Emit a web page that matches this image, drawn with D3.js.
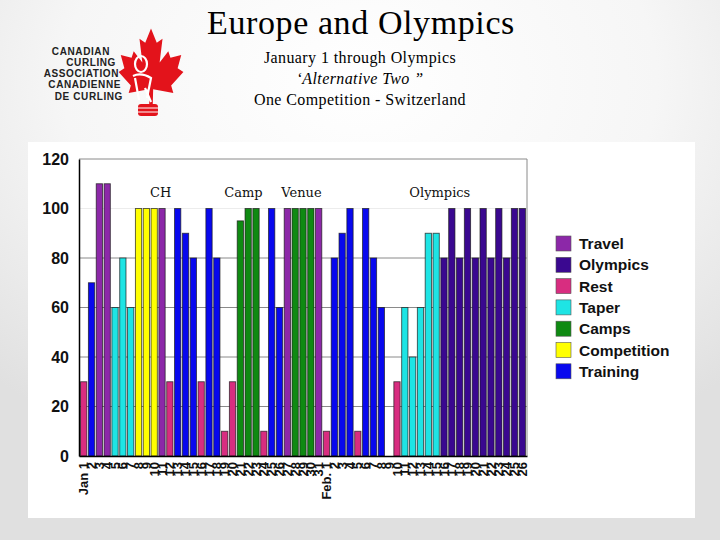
<!DOCTYPE html>
<html>
<head>
<meta charset="utf-8">
<script src="https://cdn.jsdelivr.net/npm/d3@7"></script>
<style>
  body { margin: 0; padding: 0; background: #fff; }
  svg { display: block; }
</style>
</head>
<body>
<div id="chart"></div>
<script>
// day labels along the x axis (Jan 1 .. Feb 26)
const dayLabels = ["Jan 1","2","3","4","5","6","7","8","9","10","11","12","13","14","15","16",
  "17","18","19","20","21","22","23","24","25","26","27","28","29","30","31",
  "Feb. 1","2","3","4","5","6","7","8","9","10","11","12","13","14","15","16",
  "17","18","19","20","21","22","23","24","25","26"];

// load per day
const loads = [30,70,110,110,60,80,60,100,100,100,100,30,100,90,80,30,
  100,80,10,30,95,100,100,10,100,60,100,100,100,100,100,
  10,80,90,100,10,100,80,60,0,30,60,40,60,90,90,80,
  100,80,100,80,100,80,100,80,100,100];

// activity type per day
const kinds = ["Rest","Training","Travel","Travel","Taper","Taper","Taper","Competition","Competition","Competition","Travel","Rest","Training","Training","Training","Rest",
  "Training","Training","Rest","Rest","Camps","Camps","Camps","Rest","Training","Training","Travel","Camps","Camps","Camps","Travel",
  "Rest","Training","Training","Training","Rest","Training","Training","Training","","Rest","Taper","Taper","Taper","Taper","Taper","Olympics",
  "Olympics","Olympics","Olympics","Olympics","Olympics","Olympics","Olympics","Olympics","Olympics","Olympics"];

const legendNames = ["Travel","Olympics","Rest","Taper","Camps","Competition","Training"];
const legendColors = ["#8c28a8","#3a0890","#d82d80","#1ee4e4","#0f8a12","#ffff00","#0808ee"];

const yTicks = [0,20,40,60,80,100,120];

const phaseNames = ["CH","Camp","Venue","Olympics"];
const phaseDays = [9,20,25,43]; // day index each label sits over

const width = 720, height = 540;
const margin = {top: 159, right: 193, bottom: 84, left: 79};

const svg = d3.select('#chart')
  .append('svg')
  .attr('width', width)
  .attr('height', height);

// slide background
const defs = svg.append('defs');
const grad = defs.append('radialGradient')
  .attr('id', 'bg')
  .attr('cx', '50%').attr('cy', '15%').attr('r', '75%');
grad.append('stop').attr('offset', '0%').attr('stop-color', '#ffffff');
grad.append('stop').attr('offset', '55%').attr('stop-color', '#f6f6f6');
grad.append('stop').attr('offset', '100%').attr('stop-color', '#e0e0e0');

svg.append('rect')
  .attr('width', width).attr('height', height)
  .attr('fill', 'url(#bg)');

// white chart panel
svg.append('rect')
  .attr('x', 28).attr('y', 142)
  .attr('width', 667).attr('height', 376)
  .attr('fill', '#ffffff');

// titles
svg.append('text')
  .attr('x', 361).attr('y', 34)
  .attr('text-anchor', 'middle')
  .attr('font-family', '"Liberation Serif", serif')
  .attr('font-size', 34)
  .attr('letter-spacing', 0.6)
  .text('Europe and Olympics');

const subs = [
  {t: 'January 1 through Olympics', y: 63, italic: false},
  {t: '\u2018Alternative Two \u201D', y: 84, italic: true},
  {t: 'One Competition - Switzerland', y: 105, italic: false}
];
svg.selectAll('.sub')
  .data(subs)
  .enter()
  .append('text')
    .attr('class', 'sub')
    .attr('x', 360)
    .attr('y', d => d.y)
    .attr('text-anchor', 'middle')
    .attr('font-family', '"Liberation Serif", serif')
    .attr('font-size', 16)
    .attr('letter-spacing', 0.4)
    .attr('font-style', d => d.italic ? 'italic' : 'normal')
    .text(d => d.t);

// logo: maple leaf + association name
const leafPts = [[0,-48],[-8,-33],[-16,-37],[-12,-12],[-24,-24],[-27,-17],[-42,-20],[-37,-6],[-45,-2],
  [-28,12],[-31,20],[-3,16],[-2,44],[2,44],[3,16],[31,20],[28,12],[45,-2],[37,-6],[42,-20],
  [27,-17],[24,-24],[12,-12],[16,-37],[8,-33]];
const logo = svg.append('g').attr('transform', 'translate(151,74)');
logo.append('path')
  .attr('d', d3.line().x(d => d[0] * 0.72).y(d => d[1] * 0.95)(leafPts) + 'Z')
  .attr('fill', '#e3131b');
// curler figure
logo.append('ellipse')
  .attr('cx', -10).attr('cy', -10).attr('rx', 6).attr('ry', 8)
  .attr('fill', 'none').attr('stroke', '#fff').attr('stroke-width', 2.2);
logo.append('path')
  .attr('d', 'M-18,2 Q-10,-2 0,4 L-4,24 M-16,4 L-12,26 M-6,14 L0,28')
  .attr('fill', 'none').attr('stroke', '#fff').attr('stroke-width', 2.2);
// stone
logo.append('rect')
  .attr('x', -13).attr('y', 30).attr('width', 20).attr('height', 12).attr('rx', 3)
  .attr('fill', '#e3131b');
logo.append('path')
  .attr('d', 'M-13,34 H7 M-13,38 H7')
  .attr('stroke', '#fff').attr('stroke-width', 1.2);

const logoLines = [
  {t: 'CANADIAN', x: 110, y: 55},
  {t: 'CURLING', x: 116, y: 66},
  {t: 'ASSOCIATION', x: 119, y: 77},
  {t: 'CANADIENNE', x: 121, y: 88},
  {t: 'DE CURLING', x: 123, y: 100}
];
svg.selectAll('.logoText')
  .data(logoLines)
  .enter()
  .append('text')
    .attr('class', 'logoText')
    .attr('x', d => d.x)
    .attr('y', d => d.y)
    .attr('text-anchor', 'end')
    .attr('font-family', '"Liberation Sans", Arial, sans-serif')
    .attr('font-weight', 'bold')
    .attr('font-size', 10)
    .attr('letter-spacing', 0.6)
    .attr('fill', '#222')
    .text(d => d.t);

// scales
const graphWidth = width - margin.left - margin.right;
const x = d3.scaleBand()
  .domain(d3.range(dayLabels.length))
  .range([margin.left, margin.left + graphWidth])
  .paddingInner(0.2)
  .paddingOuter(0.2);

const y = d3.scaleLinear()
  .domain([0, 120])
  .range([height - margin.bottom, margin.top]);

const color = d3.scaleOrdinal().domain(legendNames).range(legendColors);

const graph = svg.append('g');

// gridlines
graph.selectAll('.grid')
  .data(yTicks.filter(d => d > 0 && d < 120))
  .enter()
  .append('line')
    .attr('x1', margin.left).attr('x2', margin.left + graphWidth)
    .attr('y1', d => y(d)).attr('y2', d => y(d))
    .attr('stroke', d => d == 100 ? '#ececec' : '#8a8a8a')
    .attr('stroke-width', 1);

// frame top/right
graph.append('path')
  .attr('d', 'M' + margin.left + ',' + y(120) + 'H' + (margin.left + graphWidth) + 'V' + y(0))
  .attr('fill', 'none')
  .attr('stroke', '#8a8a8a');

// phase labels
const phaseNudge = [-1, -13, 5, -8];
graph.selectAll('.phase')
  .data(phaseNames)
  .enter()
  .append('text')
    .attr('x', (d, i) => x(phaseDays[i]) + phaseNudge[i])
    .attr('y', 197)
    .attr('font-family', '"DejaVu Serif", serif')
    .attr('font-size', 13)
    .attr('fill', '#111')
    .text(d => d);

// bars
const barData = loads.map((v, i) => ({i: i, value: v, kind: kinds[i]})).filter(d => d.value > 0);
graph.selectAll('.bar')
  .data(barData)
  .enter()
  .append('rect')
    .attr('class', 'bar')
    .attr('x', d => x(d.i))
    .attr('y', d => y(d.value))
    .attr('width', x.bandwidth())
    .attr('height', d => y(0) - y(d.value))
    .attr('fill', d => color(d.kind))
    .attr('stroke', '#1a1a1a')
    .attr('stroke-opacity', 0.75)
    .attr('stroke-width', 0.9);

// axes
const yAxis = d3.axisLeft(y).tickValues(yTicks).tickSize(0).tickPadding(10);
graph.append('g')
  .attr('class', 'y axis')
  .attr('transform', 'translate(' + margin.left + ',0)')
  .call(yAxis)
  .call(g => g.select('.domain').attr('stroke', '#000').attr('stroke-width', 1.5))
  .call(g => g.selectAll('text')
    .attr('font-family', '"Liberation Sans", Arial, sans-serif')
    .attr('font-weight', 'bold')
    .attr('font-size', 16)
    .attr('fill', '#111'));

const xAxis = d3.axisBottom(x).tickSize(0).tickFormat(i => dayLabels[i]);
graph.append('g')
  .attr('class', 'x axis')
  .attr('transform', 'translate(0,' + y(0) + ')')
  .call(xAxis)
  .call(g => g.select('.domain').attr('stroke', '#000').attr('stroke-width', 1.5))
  .call(g => g.selectAll('text')
    .attr('font-family', '"Liberation Sans", Arial, sans-serif')
    .attr('font-weight', 'bold')
    .attr('font-size', 13)
    .attr('fill', '#111')
    .attr('text-anchor', 'end')
    .attr('dy', '0.35em')
    .attr('transform', 'translate(0,6) rotate(-90)')
    .attr('x', 0).attr('y', 0));

// legend
const legend = svg.append('g').attr('transform', 'translate(556,236)');
legend.selectAll('rect')
  .data(legendNames)
  .enter()
  .append('rect')
    .attr('x', 0)
    .attr('y', (d, i) => i * 21.3)
    .attr('width', 15).attr('height', 15)
    .attr('fill', d => color(d))
    .attr('stroke', '#555')
    .attr('stroke-width', 0.6);
legend.selectAll('text')
  .data(legendNames)
  .enter()
  .append('text')
    .attr('x', 23)
    .attr('y', (d, i) => i * 21.3 + 13)
    .attr('font-family', '"Liberation Sans", Arial, sans-serif')
    .attr('font-weight', 'bold')
    .attr('font-size', 15.5)
    .attr('fill', '#111')
    .text(d => d);
</script>
</body>
</html>
